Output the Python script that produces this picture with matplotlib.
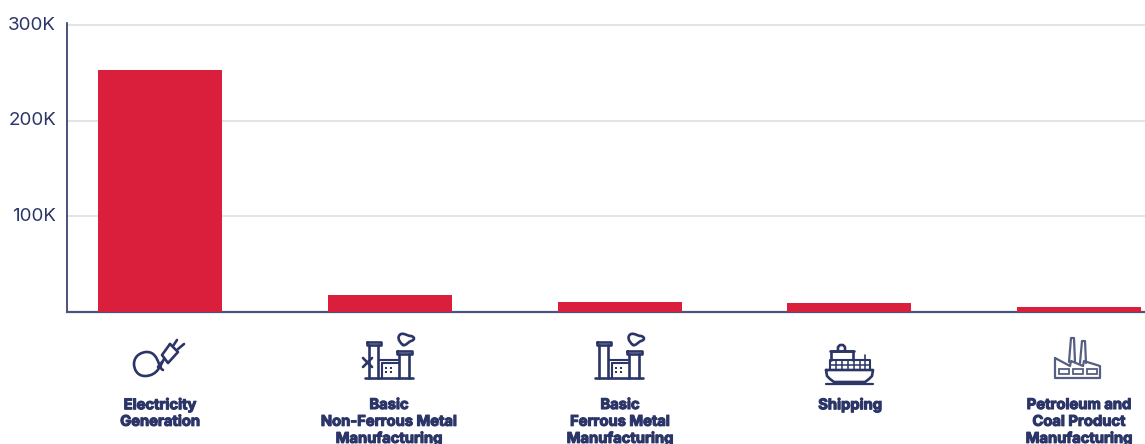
import matplotlib
matplotlib.use("Agg")
import matplotlib.pyplot as plt
import matplotlib.patheffects as pe
import numpy as np
from matplotlib.patches import PathPatch, Rectangle
from matplotlib.path import Path

plt.rcParams['font.family'] = ['Inter', 'DejaVu Sans']

categories = ["Electricity\nGeneration",
              "Basic\nNon-Ferrous Metal\nManufacturing",
              "Basic\nFerrous Metal\nManufacturing",
              "Shipping",
              "Petroleum and\nCoal Product\nManufacturing"]
values = [253000, 17800, 10500, 9000, 5500]
y_ticks = [100000, 200000, 300000]
y_tick_labels = ["100K", "200K", "300K"]

NAVY = "#2b3567"
RED = "#d91f3c"
GRID = "#dfdfe2"
SLATE = "#565f82"

W, H = 1145, 444
fig = plt.figure(figsize=(W / 100, H / 100), dpi=100, facecolor="white")

# Bar panel
ax = fig.add_axes([67 / W, 1 - 312 / H, (W - 67) / W, (312 - 25) / H])
ax.set_xlim(-0.405, 4.287)
ax.set_ylim(0, 300000)
ax.bar(range(len(values)), values, width=0.54, color=RED, zorder=3)
ax.set_yticks(y_ticks)
ax.set_yticklabels(y_tick_labels, fontsize=13.5, color=NAVY, va="center")
ax.tick_params(axis="y", length=0, pad=8)
ax.set_xticks([])
ax.grid(axis="y", color=GRID, lw=1.2, zorder=0)
for line in ax.get_ygridlines():
    line.set_clip_on(False)
for s in ("top", "right"):
    ax.spines[s].set_visible(False)
ax.spines["left"].set_color(NAVY)
ax.spines["left"].set_linewidth(1.2)
ax.spines["bottom"].set_color("#4a5480")
ax.spines["bottom"].set_linewidth(1.6)
ax.spines["left"].set_bounds(0, 302000)

# Overlay in pixel coordinates for the pictograms and category captions
ov = fig.add_axes([0, 0, 1, 1], facecolor="none")
ov.set_xlim(0, W)
ov.set_ylim(H, 0)
ov.axis("off")


def stroke(xs, ys, ox=0, oy=0, lw=1.9, color=NAVY):
    ov.plot(np.array(xs, dtype=float) + ox, np.array(ys, dtype=float) + oy,
            color=color, lw=lw, solid_capstyle="round", solid_joinstyle="round")


def curve(points, lw=1.9, color=NAVY):
    # Cubic Bezier chain: first point, then triples of control, control, end
    codes = [Path.MOVETO] + [Path.CURVE4] * (len(points) - 1)
    ov.add_patch(PathPatch(Path(points, codes), fill=False, ec=color, lw=lw,
                           capstyle="round"))


def plug_icon():
    # Looping cable running from the plug round to the left
    curve([(164, 359), (161, 364), (158, 376), (145, 376),
           (137, 376), (134, 369), (134, 364),
           (134, 356), (141, 352), (147, 352),
           (154, 352), (157, 358), (159, 364),
           (160, 367), (161, 369), (163, 370)])
    # Plug body and prongs
    stroke([170, 178, 168, 162, 170], [344, 352, 363, 355, 344])
    stroke([173, 177], [346, 340])
    stroke([178, 184], [349, 344])
    stroke([162, 158], [362, 367])


def factory_icon(ox, oy, cross):
    stroke([0, 48], [38, 38], ox, oy)
    # Tall chimney and cap
    stroke([4, 4], [38, 5], ox, oy)
    stroke([13, 13], [38, 5], ox, oy)
    stroke([2, 16, 16, 2, 2], [2, 2, 5, 5, 2], ox, oy)
    # Short chimney and cap
    stroke([34, 34], [38, 14], ox, oy)
    stroke([44, 44], [38, 14], ox, oy)
    stroke([32, 47, 47, 32, 32], [10.5, 10.5, 14, 14, 10.5], ox, oy)
    # Building with windows
    stroke([14, 33], [20, 20], ox, oy, lw=1.5)
    stroke([17, 33], [23, 23], ox, oy, lw=1.5)
    stroke([17, 17], [23, 38], ox, oy, lw=1.5)
    for wx in (21, 26):
        for wy in (28, 32):
            ov.add_patch(Rectangle((ox + wx - 1.2, oy + wy - 1.2), 2.6, 2.6,
                                   color=NAVY, lw=0))
    # Smoke puff
    curve([(ox + 38, oy + 5), (ox + 33, oy + 1), (ox + 32, oy - 4), (ox + 36, oy - 6),
           (ox + 40, oy - 7), (ox + 42, oy - 4), (ox + 46, oy - 4),
           (ox + 50, oy - 3), (ox + 50, oy + 0), (ox + 46, oy + 1),
           (ox + 43, oy + 2), (ox + 41, oy + 6), (ox + 38, oy + 5)])
    if cross:
        stroke([-2, 7], [18, 27], ox, oy)
        stroke([-2, 7], [27, 18], ox, oy)


def ship_icon(ox, oy):
    # Hull and water line
    stroke([0, 47, 46, 43, 39, 8, 4, 1, 0], [25, 25, 31, 34, 37, 37, 34, 31, 25], ox, oy)
    stroke([0, 47], [38.5, 38.5], ox, oy, lw=1.6)
    # Bridge and funnel
    stroke([5, 5, 27, 27], [15, 6, 6, 15], ox, oy)
    stroke([4, 28], [6, 6], ox, oy)
    stroke([12, 12, 14, 17, 19, 19], [6, 2, 0, 0, 2, 6], ox, oy)
    # Container stacks
    stroke([4, 4, 44, 44], [25, 15, 15, 25], ox, oy, lw=1.5)
    stroke([4, 44], [20, 20], ox, oy, lw=1.1)
    for gx in (10, 16, 22, 28, 34, 39):
        stroke([gx, gx], [15, 25], ox, oy, lw=1.1)
    stroke([39, 39], [10, 15], ox, oy, lw=1.2)


def refinery_icon(ox, oy):
    # Factory outline with saw-tooth roof
    stroke([0, 0, 45, 45, 29, 28, 16, 15, 0], [21, 41, 41, 29, 24, 29, 24, 29, 21],
           ox, oy, lw=1.6, color=SLATE)
    # Twin stacks
    stroke([14, 16, 19, 20], [25, 1, 1, 25], ox, oy, lw=1.6, color=SLATE)
    stroke([25, 27, 30, 31], [26, 4, 4, 26], ox, oy, lw=1.6, color=SLATE)
    # Windows
    for wx in (3.5, 18, 32):
        ov.add_patch(Rectangle((ox + wx, oy + 32), 10, 5, fill=False, ec=SLATE, lw=1.3))


plug_icon()
factory_icon(365, 340, True)
factory_icon(595, 340, False)
ship_icon(826, 345)
refinery_icon(1055, 337)

# Category captions, with line pitch set explicitly
centers = [160, 389, 620, 850, 1079]
for cx, label in zip(centers, categories):
    for i, line in enumerate(label.split("\n")):
        ov.text(cx, 405 + 16.8 * i, line, ha="center", va="center",
                fontsize=10.6, fontweight="bold", color=NAVY,
                path_effects=[pe.withStroke(linewidth=0.8, foreground=NAVY)])

fig.savefig("out.png", dpi=100, facecolor="white")
